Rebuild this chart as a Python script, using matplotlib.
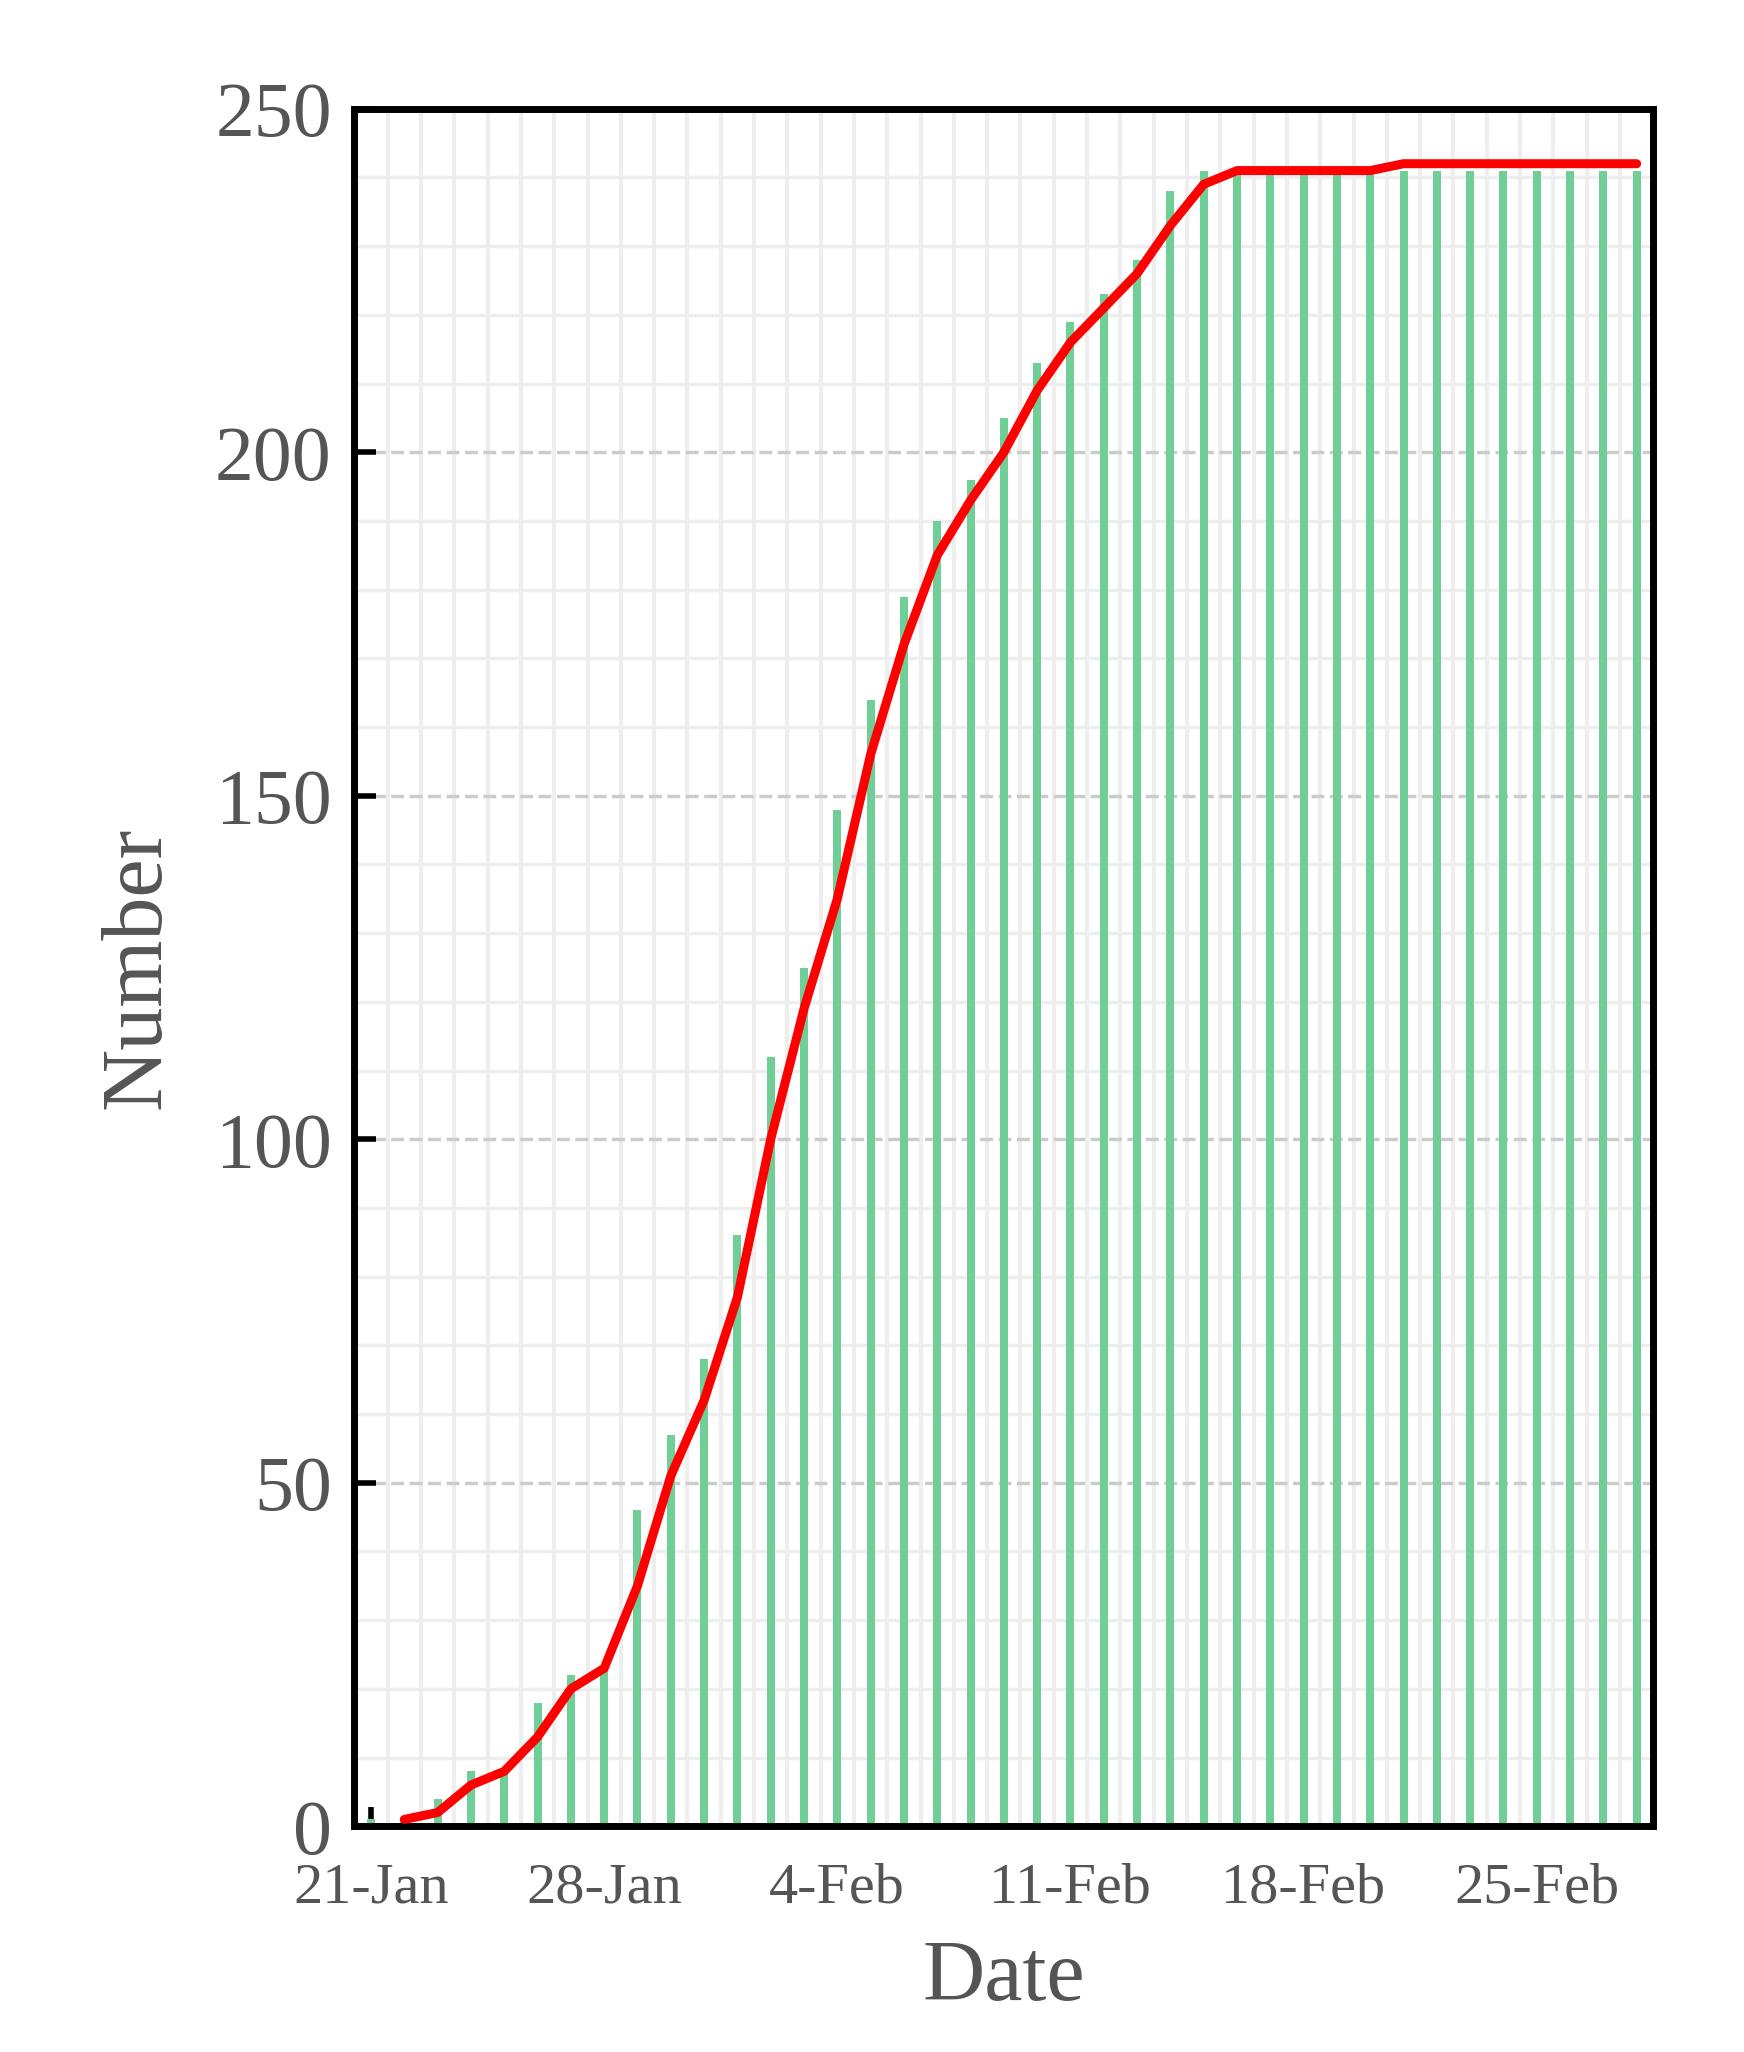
import numpy as np
import pandas as pd
import matplotlib
matplotlib.use("Agg")
import matplotlib.pyplot as plt

# daily values from 21-Jan to 28-Feb
dates = pd.date_range("2020-01-21", "2020-02-28", freq="D")
bar_values = [1, 1, 4, 8, 8, 18, 22, 23, 46, 57, 68, 86, 112, 125, 148, 164, 179, 190,
              196, 205, 213, 219, 223, 228, 238, 241, 241, 241, 241, 241, 241, 241,
              241, 241, 241, 241, 241, 241, 241]
# red line starts on 22-Jan
line_values = [1, 2, 6, 8, 13, 20, 23, 35, 51, 62, 77, 100, 119, 135, 156, 172, 185,
               193, 200, 209, 216, 221, 226, 233, 239, 241, 241, 241, 241, 241, 242,
               242, 242, 242, 242, 242, 242, 242]
tick_labels = ["21-Jan", "28-Jan", "4-Feb", "11-Feb", "18-Feb", "25-Feb"]

plt.rcParams["font.family"] = ["Liberation Serif", "DejaVu Serif"]
gray = "#555555"

fig = plt.figure(figsize=(17.44, 20.52), dpi=100)
ax = fig.add_axes([0.203, 0.110, 0.745, 0.837])

x = np.arange(len(dates))
ax.bar(x, bar_values, width=0.24, color="#6fcf97", zorder=2)
ax.plot(x[1:], line_values, color="#ff0000", lw=6.5, zorder=3, solid_capstyle="round")

ax.set_xlim(-0.51, len(dates) - 0.5)
ax.set_ylim(0, 250)

ax.set_yticks(range(0, 251, 50))
ax.set_yticks(range(0, 251, 10), minor=True)
ax.set_xticks(x[::7])
ax.set_xticklabels(tick_labels)
ax.set_xticks(x + 0.5, minor=True)

ax.grid(which="major", axis="y", color="#cccccc", ls="--", lw=2.5, zorder=0)
ax.grid(which="minor", axis="y", color="#eeeeee", lw=2.5, zorder=0)
ax.grid(which="minor", axis="x", color="#eeeeee", lw=3, zorder=0)

ax.tick_params(axis="y", which="major", direction="in", length=16, width=4,
               labelsize=56, labelcolor=gray, pad=16)
ax.tick_params(axis="x", which="major", direction="in", length=14, width=4,
               labelsize=42, labelcolor=gray, pad=26)
ax.tick_params(which="minor", length=0)

for s in ax.spines.values():
    s.set_linewidth(5)

ax.set_xlabel("Date", fontsize=62, color=gray, labelpad=18)
ax.set_ylabel("Number", fontsize=62, color=gray, labelpad=26)

fig.savefig("out.png", dpi=100)
